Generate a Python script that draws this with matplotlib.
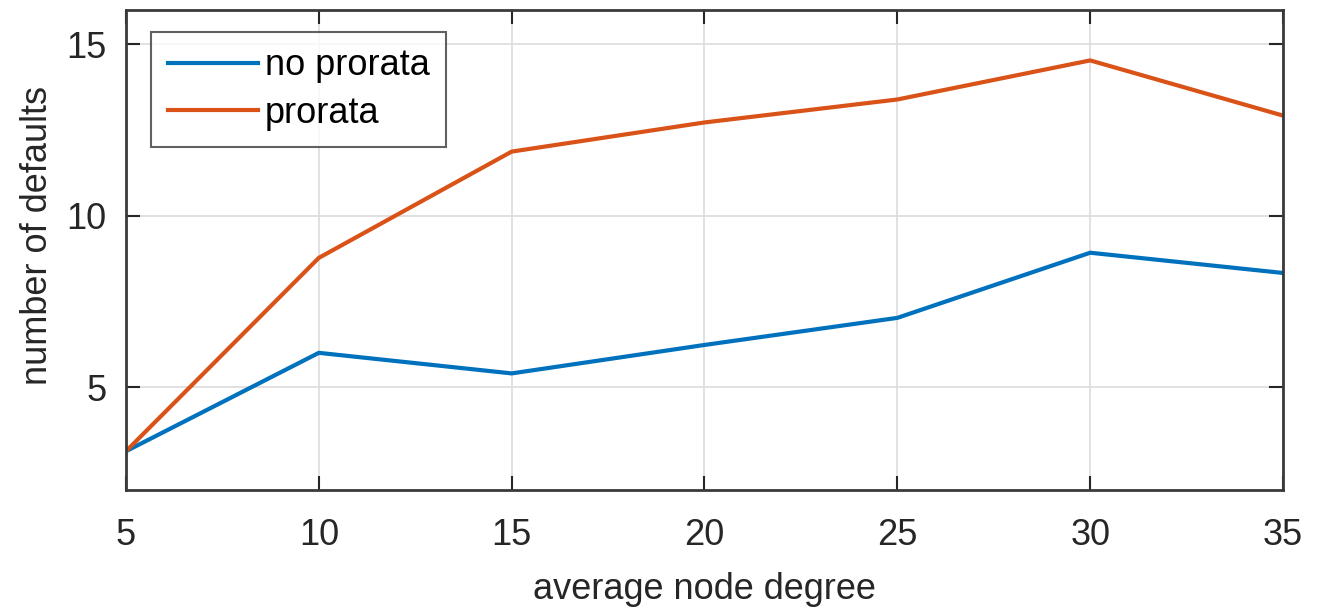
import matplotlib.pyplot as plt

# data
degree = [5, 10, 15, 20, 25, 30, 35]
no_prorata = [3.13, 6.0, 5.4, 6.23, 7.02, 8.92, 8.33]
prorata = [3.13, 8.77, 11.87, 12.72, 13.39, 14.53, 12.92]

x_ticks = [5, 10, 15, 20, 25, 30, 35]
y_ticks = [5, 10, 15]

BLUE = '#0072BD'
ORANGE = '#D95319'

plt.rcParams['font.family'] = ['Liberation Sans', 'DejaVu Sans']

fig = plt.figure(figsize=(13.22, 6.14), dpi=100)
ax = fig.add_axes([0.0953, 0.202, 0.8752, 0.7817])

ax.plot(degree, no_prorata, color=BLUE, linewidth=3, label='no prorata')
ax.plot(degree, prorata, color=ORANGE, linewidth=3, label='prorata')

ax.set_xlim(5, 35)
ax.set_ylim(2, 16)
ax.set_xticks(x_ticks)
ax.set_yticks(y_ticks)
ax.grid(True, color='#dcdcdc', linewidth=1.2)
ax.set_axisbelow(True)

ax.tick_params(direction='in', length=10, width=1.5, top=True, right=True,
               labelsize=26, colors='#262626')
ax.tick_params(axis='x', pad=20)
ax.tick_params(axis='y', pad=14)
for sp in ax.spines.values():
    sp.set_linewidth(2)
    sp.set_color('#3a3a3a')

ax.set_xlabel('average node degree', fontsize=26, color='#262626', labelpad=14)
ax.set_ylabel('number of defaults', fontsize=26, color='#262626')
ax.yaxis.set_label_coords(-0.061, 0.53)

leg = ax.legend(loc='upper left', fontsize=26, handlelength=2.5, handletextpad=0.2,
                borderpad=0.45, labelspacing=0.35, fancybox=False, borderaxespad=0,
                bbox_to_anchor=(0.022, 0.954))
leg.get_frame().set_edgecolor('#3a3a3a')
leg.get_frame().set_linewidth(1.5)

fig.savefig('out.png', dpi=100)
